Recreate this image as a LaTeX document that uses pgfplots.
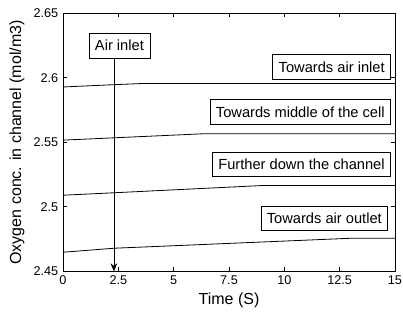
\documentclass[border=0pt]{standalone}
\usepackage{pgfplots}
\pgfplotsset{compat=1.18}
\usepackage{fontspec}
\setmainfont{Liberation Sans}
\usetikzlibrary{arrows.meta}
\begin{document}
\begin{tikzpicture}
\begin{axis}[
  name=ax,
  scale only axis,
  width=249pt, height=193.5pt,
  xmin=0, xmax=15, ymin=2.45, ymax=2.65,
  xtick={0,2.5,5,7.5,10,12.5,15},
  xticklabels={0,2.5,5,7.5,10,12.5,15},
  ytick={2.45,2.5,2.55,2.6,2.65},
  yticklabels={2.45,2.5,2.55,2.6,2.65},
  /pgf/number format/assume math mode=true,
  tick pos=both, tick align=inside,
  major tick length=3pt,
  tick style={black, line width=0.5pt},
  axis line style={line width=0.6pt},
  ticklabel style={font=\fontsize{9.5}{10}\selectfont},
  label style={font=\fontsize{12}{14}\selectfont},
  xlabel={Time (S)},
  ylabel={Oxygen conc. in channel (mol/m3)},
  xlabel style={yshift=1pt},
  ylabel style={yshift=0pt},
  clip=false,
]
\addplot[black, line width=0.6pt] coordinates {(0,2.5929) (2.3,2.5947) (3.6,2.5956) (15,2.5956)};
\addplot[black, line width=0.6pt] coordinates {(0,2.5517) (2.3,2.5535) (6.3,2.5566) (15,2.5566)};
\addplot[black, line width=0.6pt] coordinates {(0,2.5090) (2.3,2.5109) (9.1,2.5166) (15,2.5166)};
\addplot[black, line width=0.6pt] coordinates {(0,2.4648) (2.3,2.4679) (13.1,2.4757) (15,2.4757)};

\draw[line width=0.5pt, -{Stealth[length=6pt,width=5pt]}] (axis cs:2.3,2.6153) -- (axis cs:2.3,2.45);

\tikzset{lab/.style={draw=black, fill=white, line width=0.5pt, font=\fontsize{11}{13}\selectfont, inner xsep=4.5pt, minimum height=18.5pt}}
\node[lab, anchor=center] at (axis cs:2.55,2.625) {Air inlet};
\node[lab, anchor=east] at (axis cs:14.82,2.6083) {Towards air inlet};
\node[lab, anchor=east] at (axis cs:14.82,2.5734) {Towards middle of the cell};
\node[lab, anchor=east] at (axis cs:14.82,2.5329) {Further down the channel};
\node[lab, anchor=east] at (axis cs:14.69,2.4911) {Towards air outlet};
\end{axis}
\pgfresetboundingbox
\path ([shift={(-47.25pt,-31.5pt)}]ax.south west) rectangle ([shift={(6pt,10pt)}]ax.north east);
\end{tikzpicture}
\end{document}
